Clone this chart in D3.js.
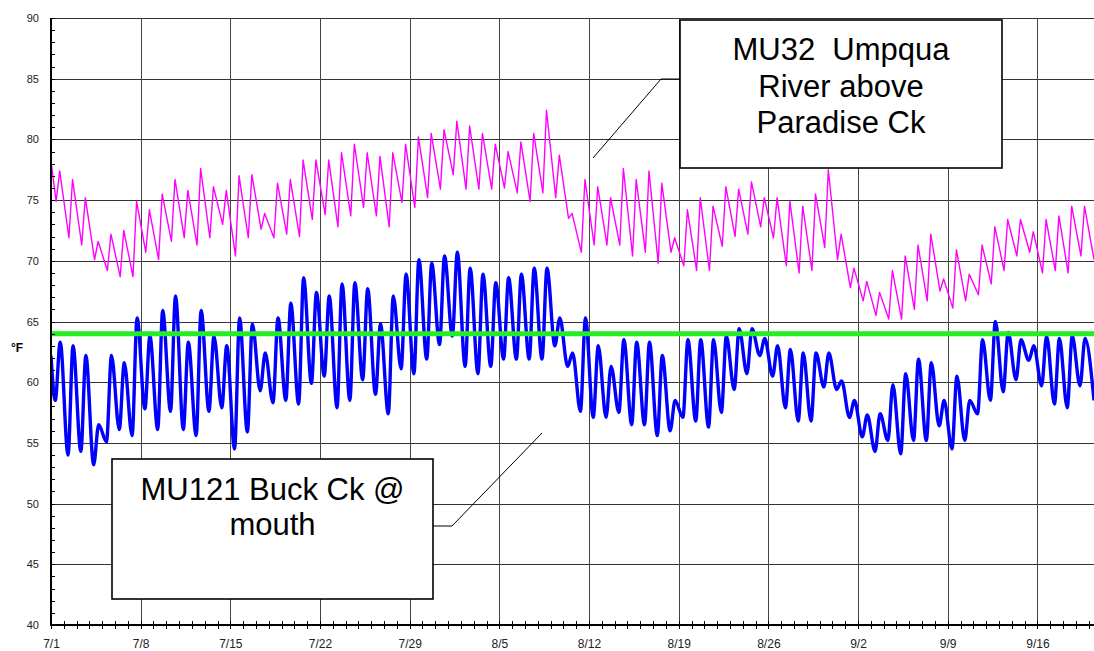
<!DOCTYPE html>
<html>
<head>
<meta charset="utf-8">
<script src="https://cdn.jsdelivr.net/npm/d3@7"></script>
<style>
  html, body { margin: 0; padding: 0; background: #fff; }
  svg { display: block; }
  text { font-family: "Liberation Sans", Arial, sans-serif; }
</style>
</head>
<body>
<svg id="chart" width="1094" height="651"></svg>
<script>
// Week tick labels along the time axis (month/day)
const tickLabels = ["7/1", "7/8", "7/15", "7/22", "7/29", "8/5", "8/12", "8/19", "8/26", "9/2", "9/9", "9/16"];
// Temperature ticks, degrees F
const yTicks = [40, 45, 50, 55, 60, 65, 70, 75, 80, 85, 90];
// Temperature criterion line, degrees F
const criterion = 64;

// MU32 Umpqua River above Paradise Ck: daily minimum / maximum, one entry per day from 7/1
const umpquaMin = [74.9, 71.9, 71.3, 70.1, 69.2, 68.7, 68.7, 70.7, 70.1, 71.6,
                   71.9, 71.3, 71.9, 73.0, 70.4, 71.9, 72.6, 71.9, 72.2, 72.0,
                   73.4, 73.8, 72.8, 73.7, 74.4, 73.7, 72.8, 74.8, 74.4, 75.2,
                   75.9, 77.1, 75.9, 75.9, 75.9, 76.0, 75.6, 74.9, 75.6, 75.2,
                   73.5, 70.7, 71.3, 71.3, 71.3, 70.4, 70.7, 69.8, 70.7, 69.6,
                   69.2, 69.2, 71.2, 72.0, 72.2, 72.8, 71.9, 69.6, 69.0, 69.2,
                   71.1, 70.1, 67.8, 66.7, 65.5, 65.2, 65.2, 66.0, 66.7, 67.5,
                   66.1, 66.7, 67.2, 68.1, 69.2, 70.4, 70.7, 69.0, 69.2, 69.0,
                   70.4];
const umpquaMax = [77.4, 76.7, 75.2, 71.6, 72.2, 72.5, 74.9, 74.2, 75.5, 76.7,
                   75.8, 77.6, 76.1, 75.8, 77.0, 77.1, 73.9, 76.4, 76.7, 78.3,
                   78.3, 78.3, 78.9, 79.6, 78.9, 78.6, 78.9, 79.6, 80.2, 80.5,
                   80.8, 81.5, 81.1, 80.5, 79.6, 79.0, 79.8, 80.5, 82.4, 78.7,
                   73.9, 76.7, 76.1, 75.2, 77.6, 76.7, 77.4, 76.4, 71.9, 74.2,
                   75.2, 74.5, 76.1, 75.9, 76.5, 75.2, 75.2, 74.9, 74.5, 75.5,
                   77.5, 72.2, 69.4, 68.3, 67.4, 69.2, 70.4, 71.3, 72.2, 68.5,
                   70.9, 68.9, 71.3, 72.8, 73.4, 73.4, 72.4, 73.4, 73.7, 74.5,
                   74.5];
const umpquaFirst = 78.2;
const umpquaLast = 70.1;

// MU121 Buck Ck @ mouth: daily minimum / maximum, one entry per day from 7/1
const buckMin = [58.5, 54.0, 54.3, 53.2, 55.1, 56.1, 55.6, 57.8, 56.1, 57.6,
                 56.1, 55.6, 57.6, 57.9, 54.5, 55.9, 59.3, 58.3, 58.5, 58.2,
                 59.9, 60.5, 57.9, 58.5, 60.2, 59.0, 57.4, 61.1, 60.7, 61.9,
                 63.1, 63.8, 61.3, 60.7, 61.3, 61.9, 61.9, 61.9, 61.9, 63.0,
                 61.3, 57.6, 57.1, 57.1, 57.5, 56.5, 56.5, 55.6, 56.0, 57.1,
                 56.8, 56.3, 57.5, 59.4, 60.7, 62.2, 60.5, 57.9, 56.8, 56.8,
                 59.6, 59.4, 57.1, 55.5, 54.3, 55.2, 54.1, 55.2, 55.2, 56.4,
                 54.5, 55.2, 57.4, 58.5, 59.2, 60.2, 61.8, 59.7, 58.2, 57.9,
                 59.7];
const buckMax = [63.3, 63.0, 62.2, 56.5, 62.2, 61.6, 65.3, 63.8, 65.9, 67.1,
                 63.3, 65.9, 63.8, 63.0, 65.3, 64.8, 62.4, 65.3, 66.5, 68.6,
                 67.4, 67.1, 68.1, 68.2, 67.7, 64.8, 67.1, 68.9, 70.1, 69.8,
                 70.4, 70.7, 69.4, 68.9, 68.2, 68.6, 68.9, 69.4, 69.4, 65.3,
                 62.4, 65.3, 63.0, 61.3, 63.5, 63.3, 63.3, 62.2, 58.5, 63.5,
                 63.5, 63.5, 63.8, 64.4, 64.4, 63.6, 63.0, 62.7, 62.4, 62.4,
                 62.4, 60.1, 58.5, 57.3, 57.4, 59.8, 60.7, 61.9, 61.6, 58.5,
                 60.5, 58.5, 63.5, 65.0, 64.1, 63.5, 63.0, 63.8, 63.6, 63.8,
                 63.6];
const buckFirst = 62.2;
const buckLast = 58.5;

const DAY = 864e5;
const start = Date.UTC(2003, 6, 1);
const spanDays = 81.42;

const svg = d3.select("#chart");
const plot = { left: 51, right: 1094, top: 18, bottom: 625 };

const x = d3.scaleUtc()
  .domain([new Date(start), new Date(start + spanDays * DAY)])
  .range([plot.left, plot.right]);
const y = d3.scaleLinear().domain([40, 90]).range([plot.bottom, plot.top]);

const labelDate = s => {
  const [m, d] = s.split("/").map(Number);
  return new Date(Date.UTC(2003, m - 1, d));
};
const weekDates = tickLabels.map(labelDate);

// daily samples: overnight low, then afternoon high
function series(first, mins, maxs, last, tLow, tHigh) {
  const pts = [{ t: 0, v: first }];
  mins.forEach((v, i) => {
    pts.push({ t: i + tLow, v: v });
    pts.push({ t: i + tHigh, v: maxs[i] });
  });
  pts.push({ t: spanDays, v: last });
  return pts.map(p => ({ date: new Date(start + p.t * DAY), v: p.v }));
}

const umpqua = series(umpquaFirst, umpquaMin, umpquaMax, umpquaLast, 0.40, 0.68);
const buck = series(buckFirst, buckMin, buckMax, buckLast, 0.33, 0.72);

// clip
svg.append("defs").append("clipPath").attr("id", "plotClip")
  .append("rect")
  .attr("x", plot.left).attr("y", plot.top)
  .attr("width", plot.right - plot.left).attr("height", plot.bottom - plot.top);

// grid
const grid = svg.append("g").attr("shape-rendering", "crispEdges");
grid.selectAll("line.h").data(yTicks.filter(v => v > 40)).enter().append("line")
  .attr("x1", plot.left).attr("x2", plot.right)
  .attr("y1", d => Math.round(y(d)) + 0.5).attr("y2", d => Math.round(y(d)) + 0.5)
  .attr("stroke", "#333").attr("stroke-width", 1);
grid.selectAll("line.v").data(weekDates.slice(1)).enter().append("line")
  .attr("x1", d => Math.round(x(d)) + 0.5).attr("x2", d => Math.round(x(d)) + 0.5)
  .attr("y1", plot.top).attr("y2", plot.bottom)
  .attr("stroke", "#444").attr("stroke-width", 1);

// series
const gData = svg.append("g").attr("clip-path", "url(#plotClip)");
gData.append("path")
  .datum(umpqua)
  .attr("fill", "none")
  .attr("stroke", "#ff00ff")
  .attr("stroke-width", 1.4)
  .attr("stroke-linejoin", "round")
  .attr("d", d3.line().x(d => x(d.date)).y(d => y(d.v)));
gData.append("path")
  .datum(buck)
  .attr("fill", "none")
  .attr("stroke", "#0000ff")
  .attr("stroke-width", 3.4)
  .attr("stroke-linejoin", "round")
  .attr("d", d3.line().curve(d3.curveMonotoneX).x(d => x(d.date)).y(d => y(d.v)));

// criterion line
gData.append("line")
  .attr("x1", plot.left).attr("x2", plot.right)
  .attr("y1", y(criterion)).attr("y2", y(criterion))
  .attr("stroke", "#22ee22").attr("stroke-width", 5);

// axes
const yAxis = d3.axisLeft(y).tickValues(yTicks).tickSize(0).tickPadding(12).tickFormat(d3.format("d"));
const gy = svg.append("g").attr("transform", `translate(${plot.left},0)`).call(yAxis);
gy.select(".domain").remove();
gy.selectAll("text").attr("font-size", 11).attr("fill", "#222")
  .style("font-family", '"Liberation Sans", Arial, sans-serif');

const xAxis = d3.axisBottom(x).tickValues(weekDates).tickSize(0).tickPadding(14)
  .tickFormat((d, i) => tickLabels[i]);
const gx = svg.append("g").attr("transform", `translate(0,${plot.bottom})`).call(xAxis);
gx.select(".domain").remove();
gx.selectAll("text").attr("font-size", 12).attr("fill", "#222")
  .style("font-family", '"Liberation Sans", Arial, sans-serif');

// minor ticks: whole degrees on the inside of the value axis
const minorY = d3.range(40, 91);
svg.append("g").attr("shape-rendering", "crispEdges")
  .selectAll("line").data(minorY).enter().append("line")
  .attr("x1", plot.left).attr("x2", plot.left + 4)
  .attr("y1", d => Math.round(y(d)) + 0.5).attr("y2", d => Math.round(y(d)) + 0.5)
  .attr("stroke", "#000");
// daily ticks crossing the time axis
const minorX = d3.utcDay.range(new Date(start), new Date(start + spanDays * DAY));
svg.append("g").attr("shape-rendering", "crispEdges")
  .selectAll("line").data(minorX).enter().append("line")
  .attr("x1", d => Math.round(x(d)) + 0.5).attr("x2", d => Math.round(x(d)) + 0.5)
  .attr("y1", plot.bottom - 4).attr("y2", plot.bottom + 4)
  .attr("stroke", "#000");

// axis lines
svg.append("line")
  .attr("x1", plot.left).attr("x2", plot.left)
  .attr("y1", plot.top).attr("y2", plot.bottom + 1)
  .attr("stroke", "#000").attr("stroke-width", 2);
svg.append("line")
  .attr("x1", plot.left).attr("x2", plot.right)
  .attr("y1", plot.bottom).attr("y2", plot.bottom)
  .attr("stroke", "#000").attr("stroke-width", 2);

// unit label
svg.append("text")
  .attr("x", 11).attr("y", 352)
  .attr("font-size", 12).attr("font-weight", "bold").attr("fill", "#000")
  .text("°F");

// site callouts
function callout(box, lines, fontSize, lineGap, firstBaseline, leader) {
  const g = svg.append("g");
  g.append("path")
    .attr("d", d3.line()(leader))
    .attr("fill", "none").attr("stroke", "#000").attr("stroke-width", 1);
  g.append("rect")
    .attr("x", box.x).attr("y", box.y).attr("width", box.w).attr("height", box.h)
    .attr("fill", "#fff").attr("stroke", "#000").attr("stroke-width", 1.6);
  g.selectAll("text").data(lines).enter().append("text")
    .attr("x", box.x + box.w / 2)
    .attr("y", (d, i) => firstBaseline + i * lineGap)
    .attr("text-anchor", "middle")
    .attr("font-size", fontSize)
    .attr("fill", "#000")
    .style("white-space", "pre")
    .text(d => d);
}

callout({ x: 680, y: 20, w: 322, h: 148 },
  ["MU32  Umpqua", "River above", "Paradise Ck"], 31, 36.5, 60,
  [[593, 158], [661, 79], [680, 79]]);

callout({ x: 112, y: 459, w: 321, h: 140 },
  ["MU121 Buck Ck @", "mouth"], 31, 35, 500,
  [[542, 433], [452, 526], [433, 526]]);
</script>
</body>
</html>
